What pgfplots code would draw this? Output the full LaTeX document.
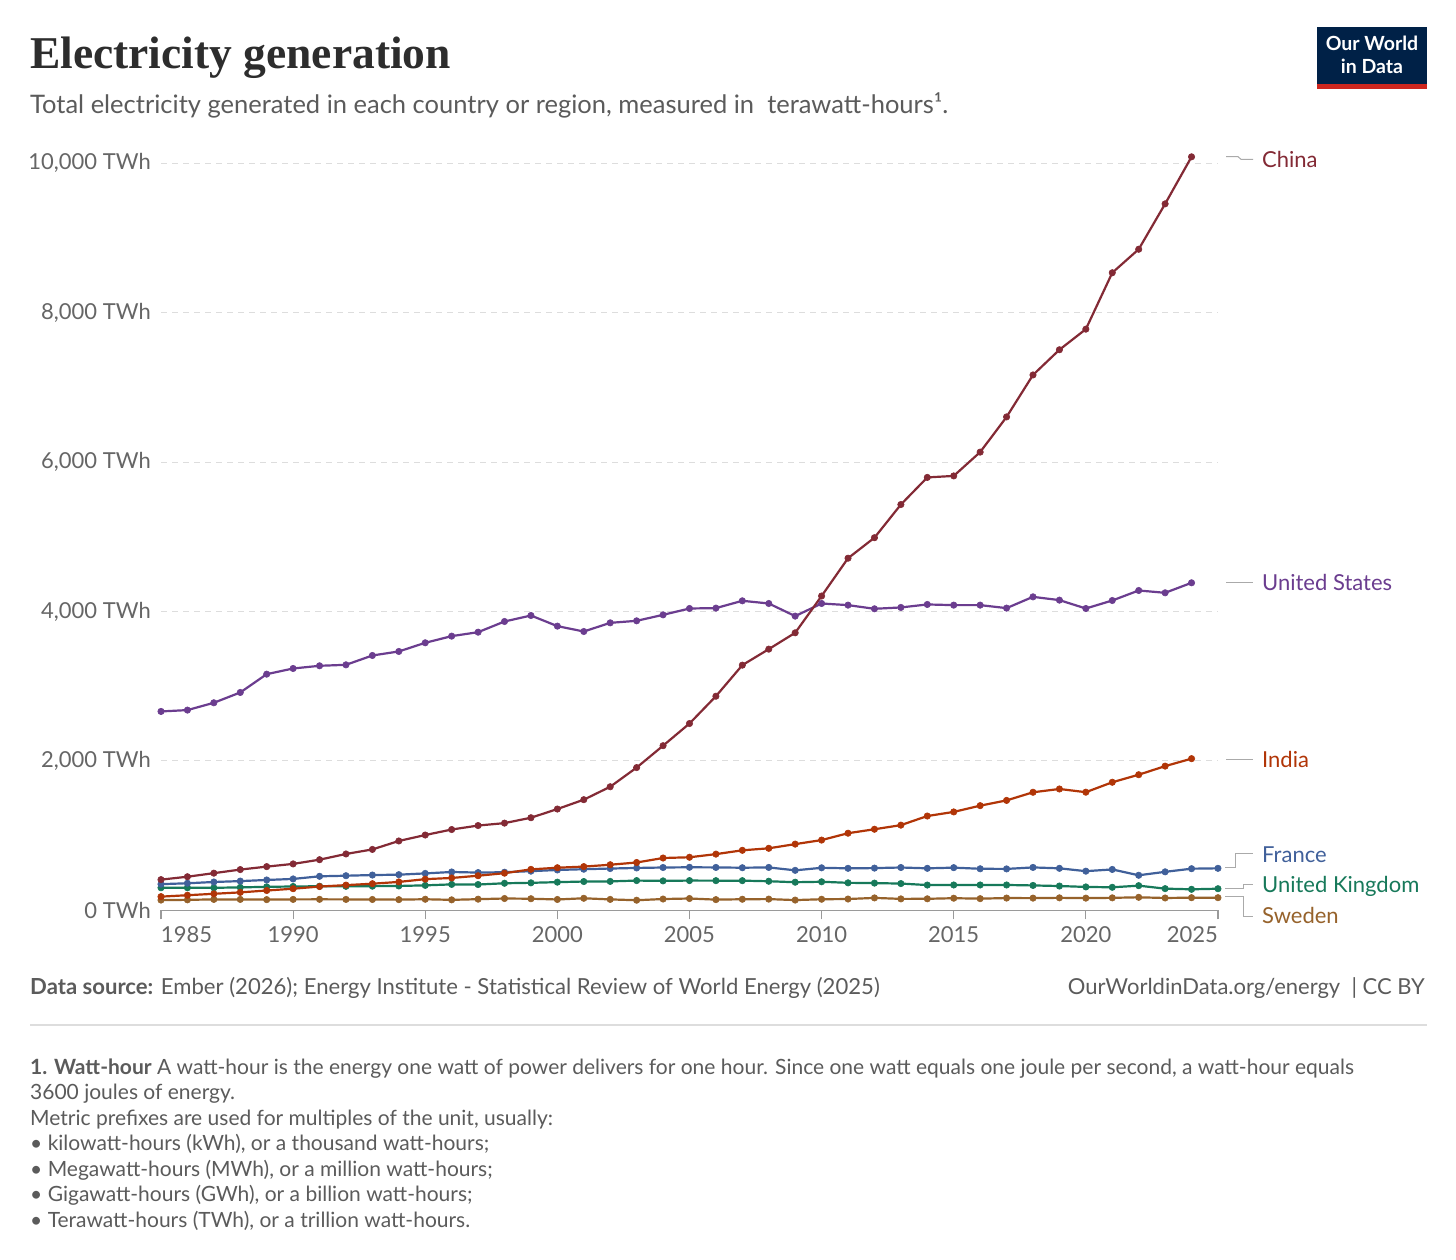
\documentclass[border=0pt]{standalone}
\usepackage{fontspec}
\setmainfont{Lato}
\newfontfamily\titlefont{Liberation Serif}
\usepackage{pgfplots}
\pgfplotsset{compat=1.18}
\usepackage{pgfplotstable}

\definecolor{china}{HTML}{832A35}
\definecolor{us}{HTML}{6B3D8F}
\definecolor{india}{HTML}{B13507}
\definecolor{france}{HTML}{40609A}
\definecolor{uk}{HTML}{17795A}
\definecolor{sweden}{HTML}{96622B}
\definecolor{axisgrey}{HTML}{9A9A9A}
\definecolor{gridgrey}{HTML}{DDDDDD}
\definecolor{labelgrey}{HTML}{666666}
\definecolor{textgrey}{HTML}{5B5B5B}
\definecolor{titlegrey}{HTML}{2D2D2D}
\definecolor{owidblue}{HTML}{002147}
\definecolor{owidred}{HTML}{CE261E}
\definecolor{connector}{HTML}{AAAAAA}

\pgfplotstableread{
year china us india
1985 410.7 2662 183
1986 449.5 2680 202
1987 497.3 2778 221
1988 545.2 2916 240
1989 584.7 3161 265
1990 621.2 3237 289
1991 677.6 3273 318
1992 754.2 3286 337
1993 815.0 3411 356
1994 928.1 3465 380
1995 1007.7 3581 417
1996 1081.3 3670 433
1997 1134.6 3723 463
1998 1167.0 3866 497
1999 1239.3 3946 548
2000 1355.6 3804 570
2001 1480.8 3732 585
2002 1654.0 3848 610
2003 1910.6 3875 640
2004 2203.3 3955 700
2005 2500.3 4040 710
2006 2865.7 4045 752
2007 3281.6 4143 803
2008 3495.8 4107 830
2009 3714.7 3938 886
2010 4207.2 4107 940
2011 4713.0 4085 1032
2012 4987.6 4036 1085
2013 5431.6 4054 1140
2014 5794.5 4094 1262
2015 5814.6 4085 1317
2016 6133.2 4085 1401
2017 6604.4 4045 1471
2018 7166.1 4196 1580
2019 7503.4 4152 1624
2020 7779.1 4040 1581
2021 8534.2 4147 1714
2022 8848.7 4281 1815
2023 9456.4 4250 1930
2024 10086 4384 2030
}\dataA

\pgfplotstableread{
year france uk sweden
1985 350 302 137
1986 362 302 140
1987 379 301 146
1988 391 307 146
1989 406 314 143
1990 420 319 146
1991 455 322 147
1992 463 321 146
1993 472 323 145
1994 477 326 143
1995 494 334 148
1996 513 347 140
1997 505 345 149
1998 510 362 158
1999 524 368 155
2000 540 377 145
2001 550 385 161
2002 559 387 146
2003 567 398 135
2004 573 394 151
2005 576 398 158
2006 574 397 143
2007 570 397 148
2008 574 389 150
2009 535 376 137
2010 569 382 148
2011 562 368 151
2012 565 364 166
2013 573 358 153
2014 562 338 154
2015 571 339 162
2016 556 339 156
2017 554 339 164
2018 574 333 163
2019 562 325 167
2020 524 313 163
2021 547 308 167
2022 469 330 174
2023 515 290 165
2024 557 281 169
2025 562 289 169
}\dataB

\begin{document}
\begin{tikzpicture}
\useasboundingbox (0pt,0pt) rectangle (1456pt,-1260pt);
\fill[white] (0pt,0pt) rectangle (1456pt,-1260pt);

% Title and subtitle
\node[anchor=base west, inner sep=0pt, text=titlegrey] at (30pt,-68.3pt)
  {\titlefont\bfseries\fontsize{45.5}{50}\selectfont Electricity generation};
\node[anchor=base west, inner sep=0pt, text=textgrey] at (30pt,-114pt)
  {\fontsize{25.5}{28}\selectfont Total electricity generated in each country or region, measured in\ \ terawatt-hours¹.};

% Logo
\fill[owidblue] (1317pt,-27.3pt) rectangle (1427.3pt,-88.7pt);
\fill[owidred] (1317pt,-84pt) rectangle (1427.3pt,-88.7pt);
\node[anchor=base, inner sep=0pt, text=white] at (1372pt,-51pt)
  {\fontsize{19.5}{20}\selectfont\bfseries Our World};
\node[anchor=base, inner sep=0pt, text=white] at (1372pt,-73.5pt)
  {\fontsize{19.5}{20}\selectfont\bfseries in Data};

\begin{axis}[
  at={(161pt,-910.3pt)}, anchor=south west,
  scale only axis, width=1057pt, height=762.0pt,
  xmin=1985, xmax=2025, ymin=0, ymax=10200,
  clip=false,
  scaled y ticks=false, scaled x ticks=false,
  axis x line*=bottom, axis y line*=left,
  y axis line style={draw=none},
  x axis line style={draw=axisgrey, line width=1.2pt},
  xtick={1985,1990,...,2025},
  xticklabels={{\hphantom{1985}1985},1990,1995,2000,2005,2010,2015,2020,{2025\hphantom{2025}}},
  xtick align=outside,
  major tick length=9pt,
  x tick style={draw=axisgrey, line width=1.2pt},
  ytick={0,2000,...,10000},
  yticklabels={{0 TWh},{2,000 TWh},{4,000 TWh},{6,000 TWh},{8,000 TWh},{10,000 TWh}},
  y tick style={draw=none},
  ytick align=inside,
  ymajorgrids,
  grid style={draw=gridgrey, line width=1.1pt, dash pattern=on 6pt off 5pt},
  tick label style={text=labelgrey, font=\fontsize{22}{24}\selectfont},
  yticklabel style={anchor=east, inner sep=0pt, xshift=-10pt},
  xticklabel style={anchor=north, inner sep=0pt, yshift=-7pt},
  every axis plot/.append style={line width=2.2pt, mark=*, mark size=3.2pt},
]
\addplot[color=sweden, mark options={fill=sweden, draw=sweden, line width=0.6pt}] table[x=year, y=sweden] {\dataB};
\addplot[color=uk, mark options={fill=uk, draw=uk, line width=0.6pt}] table[x=year, y=uk] {\dataB};
\addplot[color=france, mark options={fill=france, draw=france, line width=0.6pt}] table[x=year, y=france] {\dataB};
\addplot[color=india, mark options={fill=india, draw=india, line width=0.6pt}] table[x=year, y=india] {\dataA};
\addplot[color=us, mark options={fill=us, draw=us, line width=0.6pt}] table[x=year, y=us] {\dataA};
\addplot[color=china, mark options={fill=china, draw=china, line width=0.6pt}] table[x=year, y=china] {\dataA};
\end{axis}

% connectors
\begin{scope}[draw=connector, line width=1pt]
\draw (1226pt,-156.7pt) -- (1238pt,-156.7pt) -- (1241pt,-159.3pt) -- (1253pt,-159.3pt);
\draw (1226pt,-582.5pt) -- (1253pt,-582.5pt);
\draw (1226pt,-759pt) -- (1253pt,-759pt);
\draw (1225pt,-867.7pt) -- (1235pt,-867.7pt) -- (1235pt,-853.3pt) -- (1253pt,-853.3pt);
\draw (1225pt,-888.7pt) -- (1243pt,-888.7pt) -- (1243pt,-884pt) -- (1253pt,-884pt);
\draw (1225pt,-896.7pt) -- (1243pt,-896.7pt) -- (1243pt,-916pt) -- (1253pt,-916pt);
\end{scope}

% series labels
\begin{scope}[every node/.style={anchor=base west, inner sep=0pt, font=\fontsize{22}{24}\selectfont}]
\node[text=china] at (1262pt,-167.3pt) {China};
\node[text=us] at (1262pt,-590.5pt) {United States};
\node[text=india] at (1262pt,-767.5pt) {India};
\node[text=france] at (1262pt,-862.3pt) {France};
\node[text=uk] at (1262pt,-892.7pt) {United Kingdom};
\node[text=sweden] at (1262pt,-923.3pt) {Sweden};
\end{scope}

% footer
\node[anchor=base west, inner sep=0pt, text=textgrey] at (30pt,-994pt)
  {\fontsize{22.1}{24}\selectfont\textbf{Data source:} Ember (2026); Energy Institute - Statistical Review of World Energy (2025)};
\node[anchor=base east, inner sep=0pt, text=textgrey] at (1425pt,-994pt)
  {\fontsize{22}{24}\selectfont OurWorldinData.org/energy\ \ | CC BY};
\draw[gridgrey, line width=1.2pt] (30pt,-1025pt) -- (1427pt,-1025pt);

% footnote
\begin{scope}[every node/.style={anchor=base west, inner sep=0pt, text=textgrey, font=\fontsize{21}{23}\selectfont}]
\node at (30pt,-1074pt) {\textbf{1. Watt-hour} A watt-hour is the energy one watt of power delivers for one hour. Since one watt equals one joule per second, a watt-hour equals};
\node at (30pt,-1099.5pt) {3600 joules of energy.};
\node at (30pt,-1125pt) {Metric prefixes are used for multiples of the unit, usually:};
\node at (30pt,-1150.5pt) {• kilowatt-hours (kWh), or a thousand watt-hours;};
\node at (30pt,-1176pt) {• Megawatt-hours (MWh), or a million watt-hours;};
\node at (30pt,-1201.5pt) {• Gigawatt-hours (GWh), or a billion watt-hours;};
\node at (30pt,-1227pt) {• Terawatt-hours (TWh), or a trillion watt-hours.};
\end{scope}
\end{tikzpicture}
\end{document}
